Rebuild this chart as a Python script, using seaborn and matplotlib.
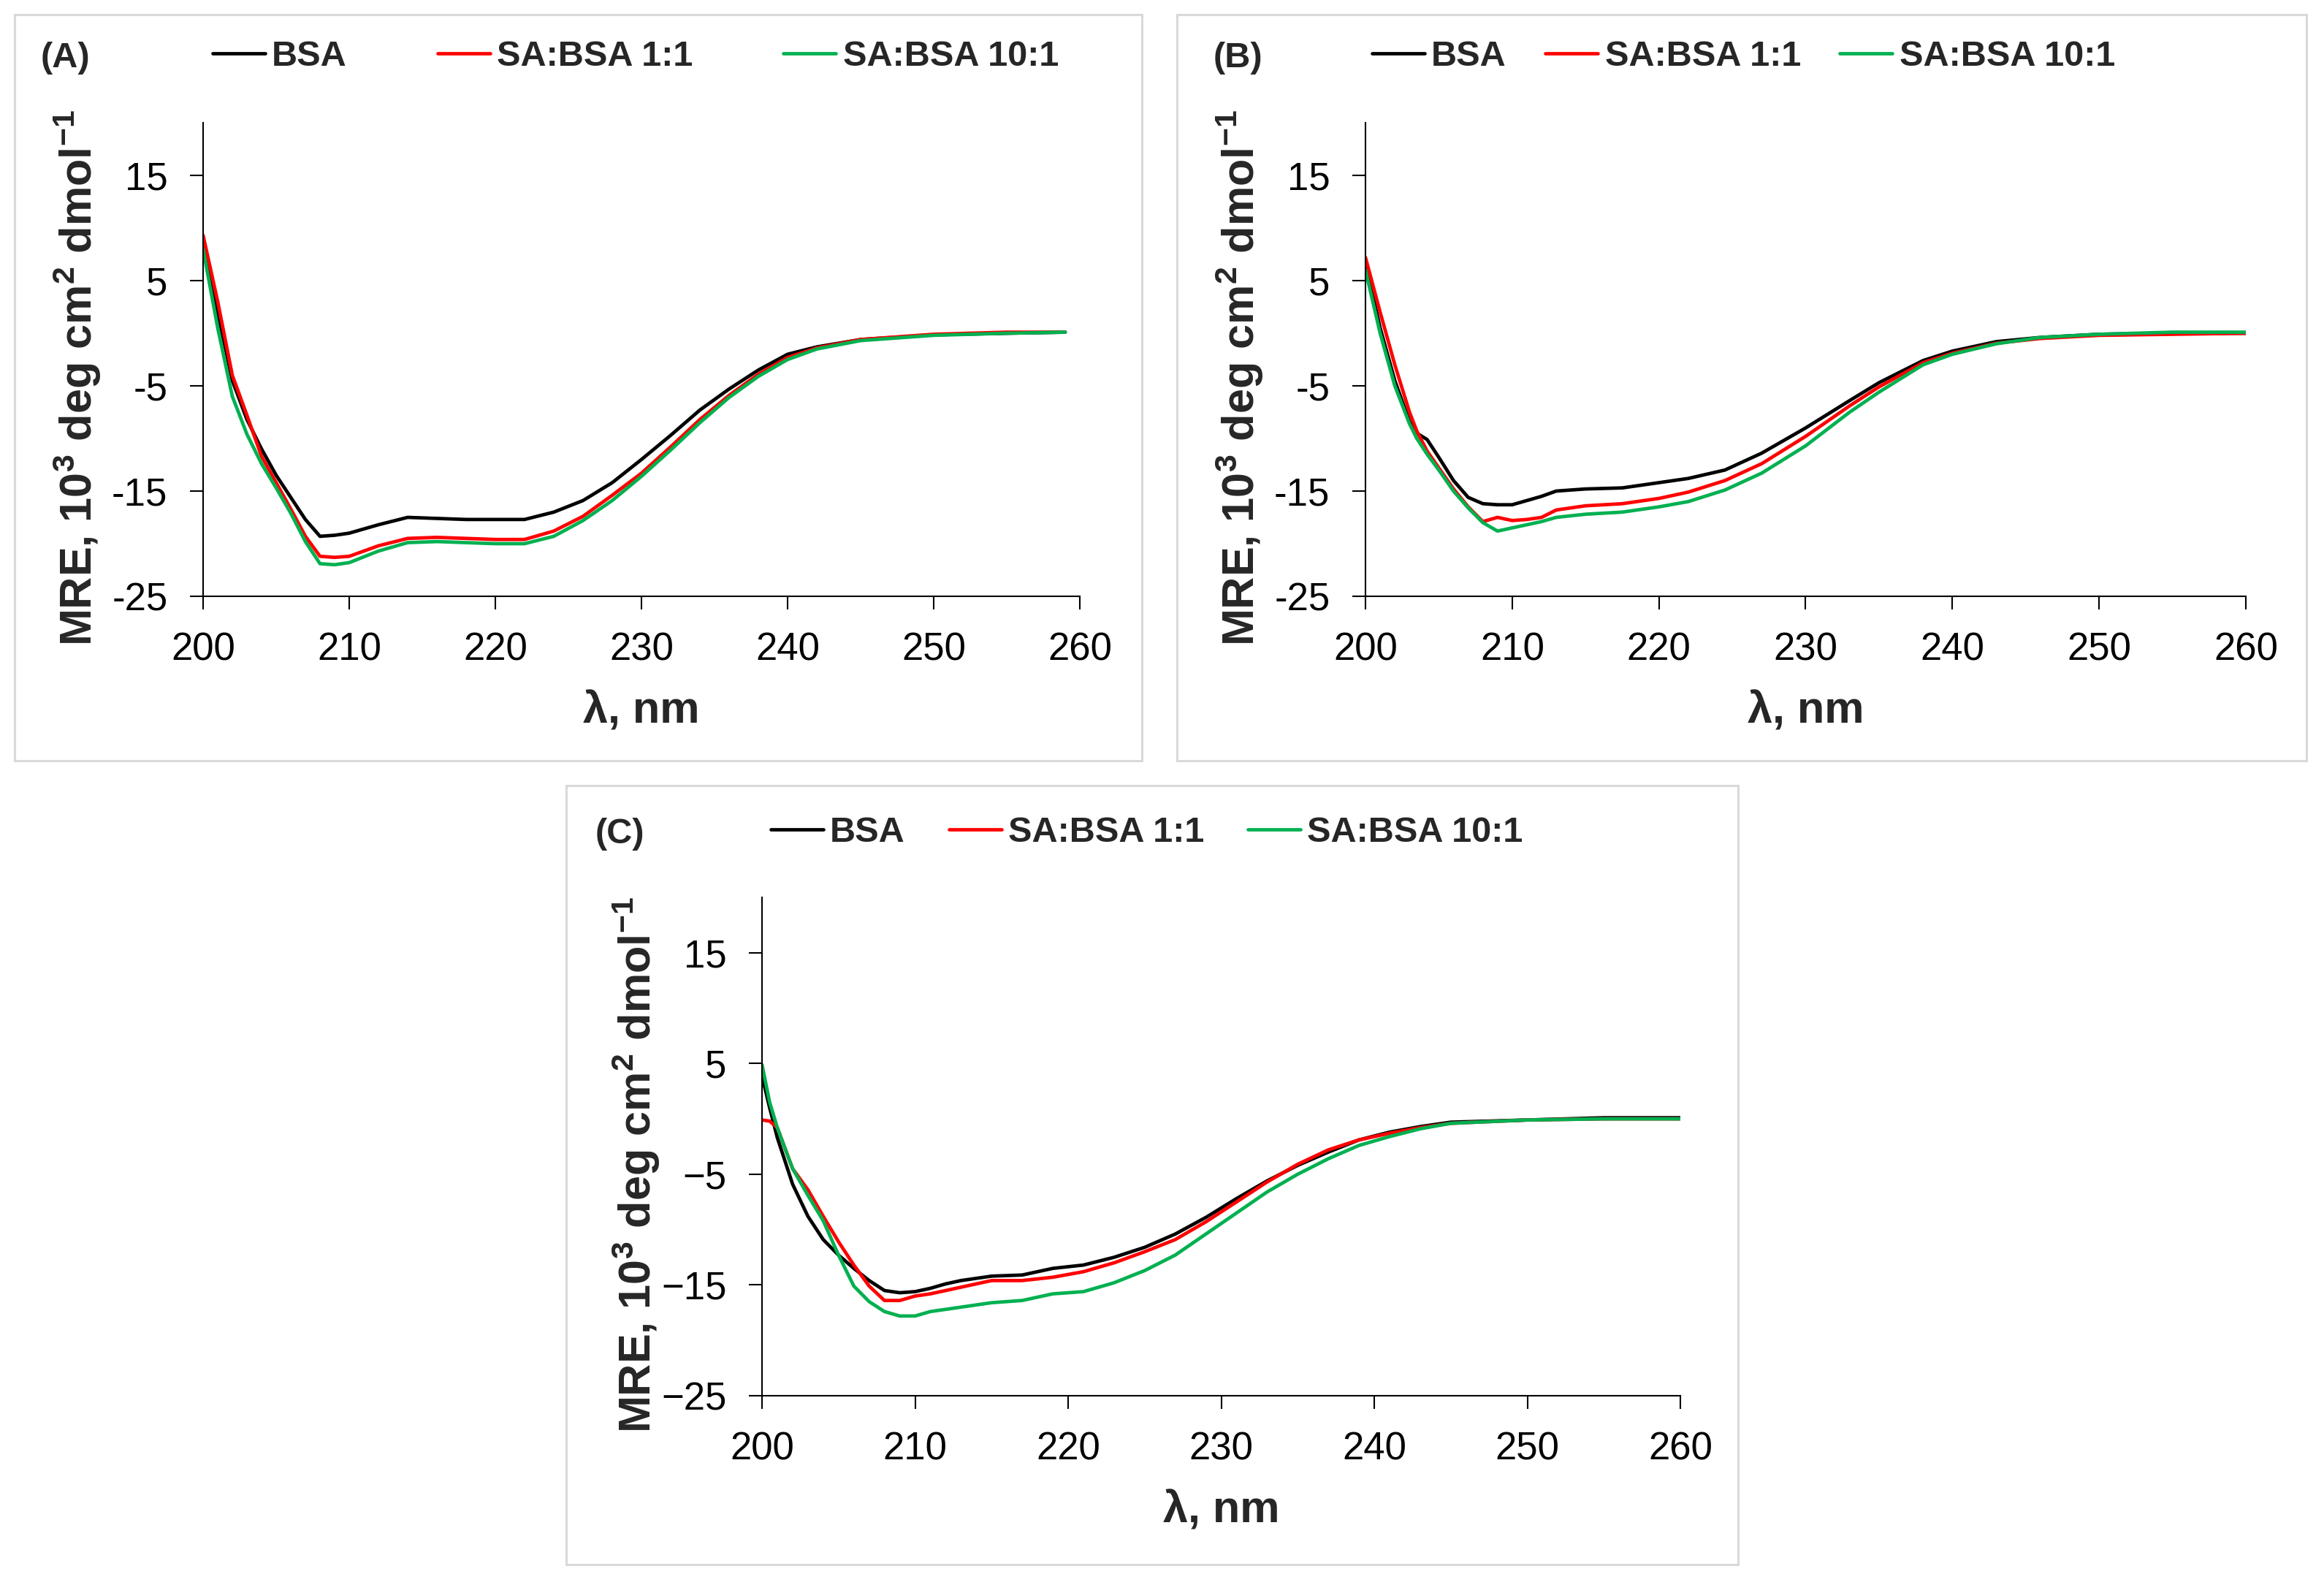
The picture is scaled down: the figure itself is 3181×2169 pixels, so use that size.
import pandas as pd
import matplotlib
matplotlib.use("Agg")
import matplotlib.pyplot as plt
import seaborn as sns
from matplotlib.patches import Rectangle

# wavelengths (nm) and MRE values (10^3 deg cm2 dmol-1)
wl_a = [200, 201, 202, 203, 204, 205, 206, 207, 208, 209, 210, 212, 214, 216, 218, 220,
        222, 224, 226, 228, 230, 232, 234, 236, 238, 240, 242, 245, 250, 255, 259]
bsa_a = [8.2, 2.0, -4.5, -8.2, -11.0, -13.5, -15.6, -17.7, -19.3, -19.2, -19.0, -18.2, -17.5, -17.6, -17.7, -17.7,
         -17.7, -17.0, -15.9, -14.2, -12.0, -9.7, -7.3, -5.3, -3.5, -2.0, -1.3, -0.6, -0.15, 0.0, 0.1]
sa11_a = [9.3, 3.0, -4.0, -7.8, -11.7, -14.2, -16.7, -19.3, -21.2, -21.3, -21.2, -20.2, -19.5, -19.4, -19.5, -19.6,
          -19.6, -18.8, -17.4, -15.4, -13.3, -10.8, -8.2, -5.9, -3.9, -2.3, -1.4, -0.6, -0.1, 0.1, 0.1]
sa101_a = [8.0, 0.5, -6.0, -9.6, -12.4, -14.7, -17.1, -19.8, -21.9, -22.0, -21.8, -20.7, -19.9, -19.8, -19.9, -20.0,
           -20.0, -19.3, -17.8, -15.9, -13.6, -11.1, -8.5, -6.1, -4.1, -2.5, -1.5, -0.7, -0.2, 0.0, 0.1]

wl_b = [200, 201, 202, 203, 203.5, 204.2, 205, 206, 207, 208, 209, 210, 211, 212, 213, 215,
        217.5, 220, 222, 224.5, 227, 230, 233, 235, 238, 240, 243, 246, 250, 255, 260]
bsa_b = [6.7, 0.5, -4.5, -8.4, -9.5, -10.1, -11.8, -14.0, -15.6, -16.2, -16.3, -16.3, -15.9, -15.5, -15.0, -14.8,
         -14.7, -14.2, -13.8, -13.0, -11.4, -9.0, -6.4, -4.7, -2.6, -1.7, -0.8, -0.4, -0.1, 0.0, 0.0]
sa11_b = [7.2, 2.0, -3.0, -7.5, -9.3, -11.2, -12.8, -14.8, -16.5, -17.9, -17.5, -17.8, -17.7, -17.5, -16.8, -16.4,
          -16.2, -15.7, -15.1, -14.0, -12.4, -9.8, -6.9, -5.1, -2.8, -1.9, -0.95, -0.5, -0.2, -0.1, 0.0]
sa101_b = [6.0, 0.0, -5.0, -8.6, -10.0, -11.5, -13.0, -15.0, -16.6, -18.0, -18.8, -18.5, -18.2, -17.9, -17.5, -17.2,
           -17.0, -16.5, -16.0, -14.9, -13.3, -10.7, -7.5, -5.6, -3.0, -2.0, -1.0, -0.4, -0.1, 0.1, 0.1]

wl_c = [200, 200.5, 201, 202, 203, 204, 205, 206, 207, 208, 209, 210, 211, 212, 213, 215, 217,
        219, 221, 223, 225, 227, 229, 231, 233, 235, 237, 239, 241, 243, 245, 250, 255, 260]
bsa_c = [3.9, 1.0, -1.7, -5.9, -8.8, -10.9, -12.3, -13.5, -14.6, -15.5, -15.7, -15.6, -15.3, -14.9, -14.6, -14.2, -14.1,
         -13.5, -13.2, -12.5, -11.6, -10.4, -8.9, -7.2, -5.6, -4.2, -3.0, -1.9, -1.2, -0.7, -0.3, -0.1, 0.1, 0.1]
sa11_c = [-0.1, -0.2, -0.8, -4.5, -6.4, -8.8, -11.1, -13.2, -15.1, -16.4, -16.4, -16.0, -15.8, -15.5, -15.2, -14.6, -14.6,
          -14.3, -13.8, -13.0, -12.0, -10.9, -9.3, -7.5, -5.7, -4.1, -2.8, -1.9, -1.3, -0.8, -0.4, -0.1, 0.0, 0.0]
sa101_c = [4.9, 1.5, -0.8, -4.5, -6.9, -9.2, -12.3, -15.1, -16.5, -17.4, -17.8, -17.8, -17.4, -17.2, -17.0, -16.6, -16.4,
           -15.8, -15.6, -14.8, -13.7, -12.3, -10.4, -8.5, -6.6, -5.0, -3.6, -2.4, -1.6, -0.9, -0.4, -0.1, 0.0, 0.0]

series_names = ["BSA", "SA:BSA 1:1", "SA:BSA 10:1"]
series_colors = ["#000000", "#FF0000", "#00B050"]
x_ticks = [200, 210, 220, 230, 240, 250, 260]
y_ticks = [-25, -15, -5, 5, 15]

sns.set_theme(style="white")
plt.rcParams["font.family"] = ["Liberation Sans", "DejaVu Sans"]
plt.rcParams["mathtext.fontset"] = "custom"
plt.rcParams["mathtext.rm"] = "Liberation Sans"
plt.rcParams["mathtext.bf"] = "Liberation Sans:bold"

W, H = 3181, 2169
fig = plt.figure(figsize=(W / 100, H / 100), dpi=100)
fig.patch.set_facecolor("white")


def fx(px):
    return px / W


def fy(py):
    return 1 - py / H


# panel settings: data, axes box (px), panel border (px), label pos, legend pos, legend spacing, minus sign
panels = [
    dict(tag="(A)", wl=wl_a, ys=[bsa_a, sa11_a, sa101_a], ax=(278, 168, 1478, 816),
         box=(20, 20, 1563, 1041), tag_xy=(56, 80), leg_xy=(291, 78), colsp=2.55, minus="-"),
    dict(tag="(B)", wl=wl_b, ys=[bsa_b, sa11_b, sa101_b], ax=(1869, 168, 3074, 816),
         box=(1611, 20, 3157, 1041), tag_xy=(1661, 80), leg_xy=(1878, 78), colsp=1.1, minus="-"),
    dict(tag="(C)", wl=wl_c, ys=[bsa_c, sa11_c, sa101_c], ax=(1043, 1228, 2300, 1910),
         box=(775, 1075, 2379, 2141), tag_xy=(815, 1141), leg_xy=(1055, 1140), colsp=1.23, minus="\u2212"),
]

ylabel = r"MRE, 10$^{\mathbf{3}}$ deg cm$^{\mathbf{2}}$ dmol$^{\mathbf{-1}}$"

for p in panels:
    x0, y0, x1, y1 = p["box"]
    fig.patches.append(Rectangle((fx(x0), fy(y1)), fx(x1 - x0), (y1 - y0) / H,
                                 transform=fig.transFigure, fill=False,
                                 edgecolor="#d9d9d9", linewidth=2.2, zorder=0))

    l, t, r, b = p["ax"]
    ax = fig.add_axes([fx(l), fy(b), fx(r - l), (b - t) / H])
    df = pd.DataFrame({"wl": p["wl"]})
    for name, vals, col in zip(series_names, p["ys"], series_colors):
        df[name] = vals
        sns.lineplot(x="wl", y=name, data=df, color=col, linewidth=3.4, label=name, ax=ax)

    ax.set_xlim(200, 260)
    ax.set_ylim(-25, 20)
    ax.set_xticks(x_ticks)
    ax.set_xticklabels([str(v) for v in x_ticks])
    ax.set_yticks(y_ticks)
    ax.set_yticklabels([str(v).replace("-", p["minus"]) for v in y_ticks])
    ax.set_xlabel("")
    ax.set_ylabel("")
    ax.tick_params(axis="both", direction="out", length=13, width=1.5, colors="black",
                   labelsize=38, bottom=True, left=True)
    ax.tick_params(axis="y", pad=22)
    ax.tick_params(axis="x", pad=22)
    sns.despine(ax=ax)
    for s in ["left", "bottom"]:
        ax.spines[s].set_color("black")
        ax.spines[s].set_linewidth(1.5)
    ax.set_facecolor("white")

    handles, labels = ax.get_legend_handles_labels()
    ax.legend(handles, labels, loc="center left", ncol=3, frameon=False,
              bbox_to_anchor=(fx(p["leg_xy"][0]), fy(p["leg_xy"][1])), bbox_transform=fig.transFigure,
              handlelength=1.48, handletextpad=0.19, columnspacing=p["colsp"],
              borderpad=0, borderaxespad=0, prop={"weight": "bold", "size": 35})

    fig.text(fx(p["tag_xy"][0]), fy(p["tag_xy"][1]), p["tag"], fontsize=35, fontweight="bold",
             ha="left", va="center")
    fig.text(fx((l + r) / 2), fy(b + 158), "\u03bb, nm", fontsize=44, fontweight="bold",
             ha="center", va="center")
    fig.text(fx(l - 172), fy((t + b) / 2 + 25), ylabel, fontsize=44, fontweight="bold",
             rotation=90, ha="center", va="center")

fig.savefig("out.png", dpi=100, facecolor="white")
